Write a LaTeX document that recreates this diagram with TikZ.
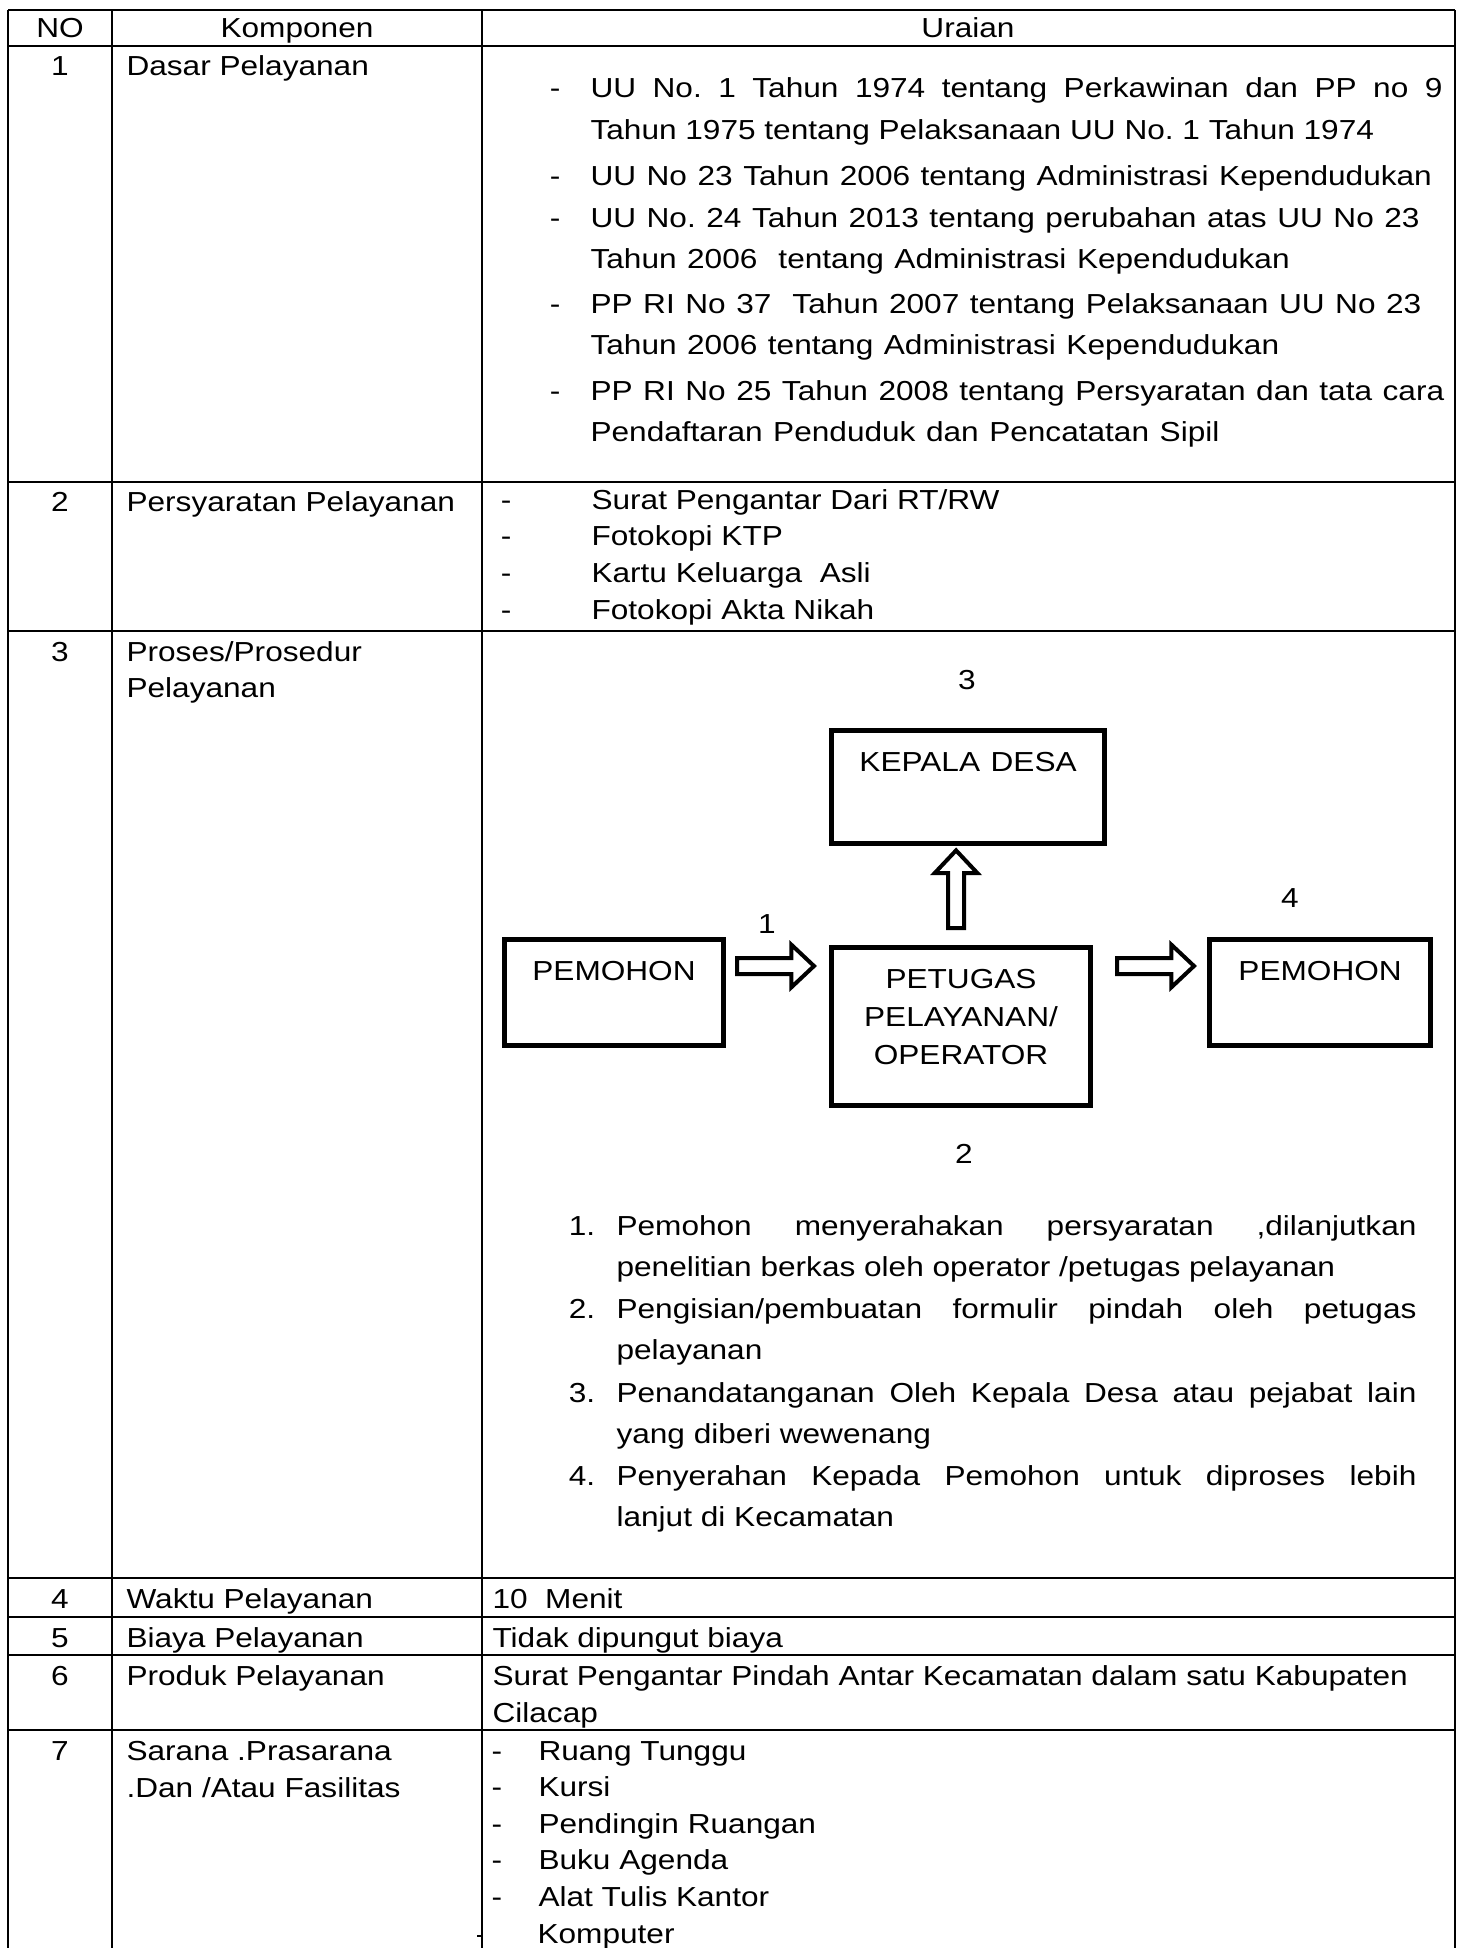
\documentclass[tikz,border=0pt]{standalone}
\usepackage{fontspec}
\setmainfont{Liberation Sans}
\usetikzlibrary{calc}
\hyphenpenalty=10000
\tolerance=10000
\frenchspacing
\begin{document}
\begin{tikzpicture}[x=0.375pt, y=-0.375pt,
  cell/.style={font=\fontsize{11.85}{15.8}\selectfont, inner sep=0pt, anchor=base west, yscale=0.87},
  numcell/.style={cell, anchor=base},
  para/.style={cell, text width=#1, align=left, font=\fontsize{11.85}{17.7}\selectfont},
  just/.style={cell, text width=#1, align=justify, font=\fontsize{11.85}{17.7}\selectfont},
  tabline/.style={line width=0.9pt},
  box/.style={draw, line width=1.9pt, inner sep=0pt, anchor=north west, yscale=0.87,
    font=\fontsize{11.85}{16.4}\selectfont, align=center, text width=#1, text height=17.7pt},
  blockarrow/.style={line width=1.5pt, to path={
    let \p1=(\tikztostart), \p2=(\tikztotarget),
        \n1={atan2(\y2-\y1,\x2-\x1)}, \n2={veclen(\x2-\x1,\y2-\y1)}, \n3={\n2-8.5pt} in
    [shift={(\p1)}, rotate=\n1]
    (0pt,3pt) -- (\n3,3pt) -- (\n3,8pt) -- (\n2,0pt)
    -- (\n3,-8pt) -- (\n3,-3pt) -- (0pt,-3pt) -- cycle}}]
  % Standar pelayanan: tabel komponen dan alur pelayanan
  \useasboundingbox (0,0) rectangle (1464,1948);
  \foreach \y in {10,46,482,631,1578,1617,1655,1730}
    \draw[tabline] (8,\y) -- (1455,\y);
  \foreach \x in {8,112,482,1455}
    \draw[tabline] (\x,10) -- (\x,1948);

  \node[numcell] (hno) at (60,38) {NO};
  \node[numcell] (hkomp) at (297,38) {Komponen};
  \node[numcell] (hur) at (968,38) {Uraian};

  \foreach \n/\y in {1/76,2/511,3/661,4/1608,5/1647,6/1685,7/1760}
    \node[numcell] (no\n) at (60,\y) {\n};
  \foreach \m/\y/\t in {k1/76/{Dasar Pelayanan}, k2/511/{Persyaratan Pelayanan},
      k3/661/{Proses/Prosedur}, k3b/697/{Pelayanan}, k4/1608/{Waktu Pelayanan},
      k5/1647/{Biaya Pelayanan}, k6/1685/{Produk Pelayanan},
      k7/1760/{Sarana .Prasarana}, k7b/1797/{.Dan /Atau Fasilitas}}
    \node[cell] (\m) at (126,\y) {\t};

  % dasar pelayanan
  \node[just=319.5pt] (d1) at (590,98) {\llap{-\hspace{11.3pt}}UU No. 1 Tahun 1974 tentang Perkawinan dan PP no 9\linebreak Tahun 1975 tentang Pelaksanaan UU No. 1 Tahun 1974};
  \node[para=322pt] (d2) at (590,185) {\llap{-\hspace{11.3pt}}UU No 23 Tahun 2006 tentang Administrasi Kependudukan};
  \node[para=322pt] (d3) at (590,227) {\llap{-\hspace{11.3pt}}UU No. 24 Tahun 2013 tentang perubahan atas UU No 23\\Tahun 2006\ \ tentang Administrasi Kependudukan};
  \node[para=322pt] (d4) at (590,313) {\llap{-\hspace{11.3pt}}PP RI No 37\ \ Tahun 2007 tentang Pelaksanaan UU No 23\\Tahun 2006 tentang Administrasi Kependudukan};
  \node[para=322pt] (d5) at (590,400) {\llap{-\hspace{11.3pt}}PP RI No 25 Tahun 2008 tentang Persyaratan dan tata cara\\Pendaftaran Penduduk dan Pencatatan Sipil};

  % persyaratan
  \foreach \t [count=\k] in {Surat Pengantar Dari RT/RW, Fotokopi KTP, Kartu Keluarga\ \ Asli, Fotokopi Akta Nikah}
    \node[cell] (p\k) at (591,{509+36.7*(\k-1)}) {\llap{-\hspace{30.1pt}}\t};

  % alur pelayanan
  \node[box=82.1pt, text depth=28pt] (pem1) at (502,937) {PEMOHON};
  \node[box=102.4pt, text depth=31pt] (kd) at (829,728) {KEPALA DESA};
  \node[box=97.1pt, text depth=50.4pt] (pet) at (829,945) {PETUGAS\\PELAYANAN/\\OPERATOR};
  \node[box=82.9pt, text depth=28pt] (pem2) at (1207,937) {PEMOHON};
  \draw[blockarrow] ([shift={(11,29)}]pem1.north east) to ([shift={(-15,21)}]pet.north west);
  \draw[blockarrow] ([shift={(-5,-17)}]pet.north) to ([shift={(-12,5)}]kd.south);
  \draw[blockarrow] ([shift={(24,21)}]pet.north east) to ([shift={(-13,29)}]pem2.north west);
  \node[numcell] (n1) at (767,933) {1};
  \node[numcell] (n2) at (964,1163) {2};
  \node[numcell] (n3) at (967,689) {3};
  \node[numcell] (n4) at (1290,907) {4};

  \node[just=300pt] (s1) at (616,1235) {\llap{1.\hspace{8pt}}Pemohon menyerahakan persyaratan ,dilanjutkan\linebreak penelitian berkas oleh operator /petugas pelayanan};
  \node[just=300pt] (s2) at (616,1318) {\llap{2.\hspace{8pt}}Pengisian/pembuatan formulir pindah oleh petugas\linebreak pelayanan};
  \node[just=300pt] (s3) at (616,1402) {\llap{3.\hspace{8pt}}Penandatanganan Oleh Kepala Desa atau pejabat lain\linebreak yang diberi wewenang};
  \node[just=300pt] (s4) at (616,1485) {\llap{4.\hspace{8pt}}Penyerahan Kepada Pemohon untuk diproses lebih\linebreak lanjut di Kecamatan};

  % waktu, biaya, produk
  \node[cell] (u4) at (492,1608) {10\ \ Menit};
  \node[cell] (u5) at (492,1647) {Tidak dipungut biaya};
  \node[cell] (u6) at (492,1685) {Surat Pengantar Pindah Antar Kecamatan dalam satu Kabupaten};
  \node[cell] (u6b) at (492,1722) {Cilacap};

  % sarana
  \foreach \t [count=\k] in {Ruang Tunggu, Kursi, Pendingin Ruangan, Buku Agenda, Alat Tulis Kantor}
    \node[cell] (f\k) at (538,{1760+36.6*(\k-1)}) {\llap{-\hspace{13.6pt}}\t};
  \node[cell] (f6) at (537,1943) {Komputer};
  \draw[tabline] (477,1936) -- (482,1936);
\end{tikzpicture}
\end{document}
